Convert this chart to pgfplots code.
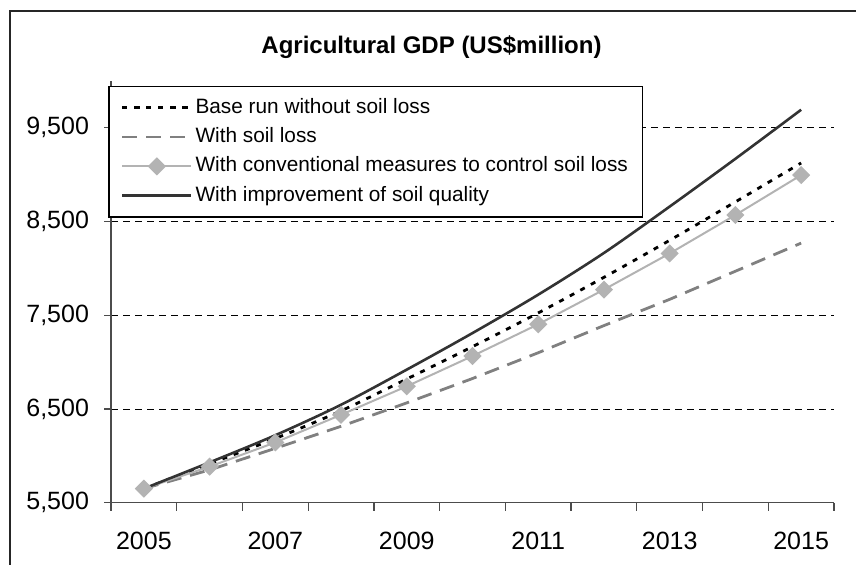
\documentclass[border=0pt]{standalone}
\usepackage{fontspec}
\setmainfont{Liberation Sans}
\usepackage{pgfplots}
\pgfplotsset{compat=1.18}

\definecolor{basecol}{HTML}{000000}
\definecolor{losscol}{HTML}{808080}
\definecolor{convcol}{HTML}{B3B3B3}
\definecolor{improvcol}{HTML}{333333}

\begin{document}
\begin{tikzpicture}
\path[use as bounding box] (0pt,0pt) rectangle (428pt,282.5pt);

% chart frame (cut off at right and bottom)
\draw[line width=0.7pt, black!85] (5pt,0pt) -- (5pt,277pt) -- (428pt,277pt);

\node[anchor=base, font=\fontsize{12}{14}\selectfont\bfseries] at (215.75pt,255.5pt)
  {Agricultural GDP (US\$million)};

\begin{axis}[
  at={(55.5pt,31.15pt)}, anchor=south west,
  scale only axis, width=361.5pt, height=210.85pt,
  xmin=-0.5, xmax=10.5, ymin=5500, ymax=10000,
  axis x line*=bottom, axis y line*=left,
  axis line style={-, draw=black!70, line width=0.6pt},
  tick align=outside,
  tick style={draw=black!70, line width=0.6pt},
  xtick={0,2,4,6,8,10},
  xticklabels={2005,2007,2009,2011,2013,2015},
  major x tick style={draw=none},
  minor xtick={-0.5,0.5,...,10.5},
  minor tick length=4pt,
  ytick={5500,6500,7500,8500,9500},
  major tick length=3.5pt,
  scaled y ticks=false,
  yticklabel={\pgfmathprintnumber[fixed,precision=0,1000 sep={,}]{\tick}},
  ymajorgrids,
  major grid style={dashed, black, line width=0.45pt, dash pattern=on 3.5pt off 2.5pt},
  /pgf/number format/assume math mode=true,
  ticklabel style={font=\fontsize{12.5}{15}\selectfont},
  xticklabel style={yshift=-7.5pt},
  yticklabel style={xshift=-4pt},
  legend cell align=left,
  legend image code/.code={\draw[mark repeat=2,mark phase=2,#1] plot coordinates {(0pt,0pt) (17.25pt,0pt) (34.5pt,0pt)};},
  legend style={at={(-0.0037,0.9889)}, anchor=north west,
    draw=black, line width=0.6pt, fill=white,
    font=\fontsize{10.4}{12}\selectfont,
    inner xsep=6pt, inner ysep=3.4pt, row sep=0.2pt,
    nodes={inner xsep=1.4pt, inner ysep=2pt, text height=8pt, text depth=2.5pt}},
]
\addplot[basecol, line width=1.4pt, dash pattern=on 2.5pt off 3.5pt, smooth] coordinates {
  (0,5650) (1,5915) (2,6185) (3,6480) (4,6820) (5,7165) (6,7525) (7,7905) (8,8300) (9,8710) (10,9125)};
\addlegendentry{Base run without soil loss}

\addplot[losscol, line width=1.4pt, dash pattern=on 7.5pt off 4.5pt] coordinates {
  (0,5650) (1,5850) (2,6080) (3,6315) (4,6565) (5,6825) (6,7100) (7,7390) (8,7670) (9,7970) (10,8270)};
\addlegendentry{With soil loss}

\addplot[convcol, line width=1pt, mark=square*, mark size=2.7pt,
  mark options={rotate=45, fill=convcol, draw=convcol}] coordinates {
  (0,5650) (1,5885) (2,6143) (3,6438) (4,6742) (5,7065) (6,7404) (7,7774) (8,8160) (9,8570) (10,8996)};
\addlegendentry{With conventional measures to control soil loss}

\addplot[improvcol, line width=1.3pt, smooth] coordinates {
  (0,5650) (1,5930) (2,6220) (3,6545) (4,6920) (5,7310) (6,7720) (7,8165) (8,8660) (9,9170) (10,9693)};
\addlegendentry{With improvement of soil quality}
\end{axis}
\end{tikzpicture}
\end{document}
